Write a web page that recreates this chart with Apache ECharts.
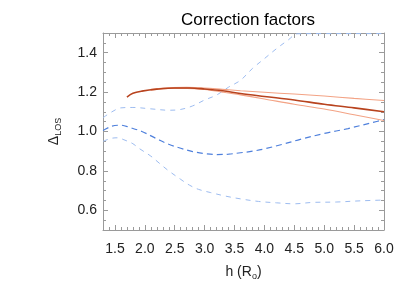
<!DOCTYPE html>
<html>
<head>
<meta charset="utf-8">
<script src="https://cdn.jsdelivr.net/npm/echarts@6/dist/echarts.min.js"></script>
<style>html,body{margin:0;padding:0;background:#fff}#c{width:415px;height:297px}</style>
</head>
<body>
<div id="c"></div>
<script>
// ---- data ----
const xTickLabels = [1.5, 2.0, 2.5, 3.0, 3.5, 4.0, 4.5, 5.0, 5.5, 6.0];
const yTickLabels = [0.6, 0.8, 1.0, 1.2, 1.4];

const xBlueUpper = [1.3, 1.45, 1.6, 1.8, 2.1, 2.4, 2.6, 2.8, 3.0, 3.2, 3.4, 3.6, 3.8, 4.0, 4.2, 4.4, 4.55, 5.0, 5.5, 6.0];
const yBlueUpper = [1.07, 1.10, 1.12, 1.122, 1.115, 1.108, 1.112, 1.13, 1.16, 1.185, 1.225, 1.26, 1.32, 1.37, 1.42, 1.465, 1.496, 1.497, 1.497, 1.497];

const xBlueMid = [1.3, 1.45, 1.6, 1.75, 1.95, 2.2, 2.4, 2.6, 2.8, 3.0, 3.2, 3.4, 3.6, 3.8, 4.0, 4.3, 4.6, 5.0, 5.4, 5.8, 6.0];
const yBlueMid = [1.005, 1.027, 1.032, 1.02, 1.0, 0.963, 0.935, 0.915, 0.898, 0.888, 0.883, 0.885, 0.892, 0.9, 0.912, 0.935, 0.96, 0.99, 1.015, 1.045, 1.06];

const xBlueLow = [1.3, 1.45, 1.55, 1.65, 1.8, 1.9, 2.1, 2.25, 2.4, 2.6, 2.75, 2.9, 3.1, 3.35, 3.6, 3.9, 4.2, 4.5, 4.8, 5.2, 5.6, 6.0];
const yBlueLow = [0.95, 0.966, 0.968, 0.958, 0.938, 0.915, 0.875, 0.837, 0.8, 0.757, 0.727, 0.706, 0.69, 0.672, 0.658, 0.645, 0.638, 0.633, 0.64, 0.642, 0.648, 0.652];

const xRedDark = [1.7, 1.8, 1.95, 2.2, 2.5, 2.75, 3.0, 3.3, 3.6, 4.0, 4.5, 5.0, 5.5, 6.0];
const yRedDark = [1.175, 1.194, 1.205, 1.215, 1.221, 1.221, 1.216, 1.207, 1.193, 1.178, 1.16, 1.138, 1.12, 1.10];

const xRedUpper = [2.1, 2.4, 2.7, 3.0, 3.3, 3.6, 4.0, 4.5, 5.0, 5.5, 6.0];
const yRedUpper = [1.214, 1.222, 1.224, 1.221, 1.214, 1.207, 1.199, 1.19, 1.18, 1.168, 1.157];

const xRedLower = [2.1, 2.4, 2.7, 3.0, 3.3, 3.6, 4.0, 4.5, 5.0, 5.5, 6.0];
const yRedLower = [1.21, 1.218, 1.219, 1.213, 1.2, 1.186, 1.165, 1.138, 1.114, 1.085, 1.056];

// ---- chart ----
const pairs = (xs, ys) => xs.map((x, i) => [x, ys[i]]);
const axisGray = '#9a9a9a';
const font = 'Liberation Sans, Arial, sans-serif';

function xAx(pos, major, labels, extra) {
  return Object.assign({
    type: 'value', position: pos, min: 1.3, max: 6.0, interval: 0.1,
    axisLine: { show: !major, onZero: false, lineStyle: { color: axisGray, width: 1 } },
    axisTick: major
      ? { show: true, inside: true, length: 5, customValues: xTickLabels, lineStyle: { color: axisGray } }
      : { show: true, inside: true, length: 3, lineStyle: { color: axisGray } },
    axisLabel: labels
      ? { show: true, customValues: xTickLabels, formatter: v => v.toFixed(1), color: '#222', fontSize: 14, fontFamily: font, margin: 12 }
      : { show: false },
    splitLine: { show: false }
  }, extra || {});
}
function yAx(pos, major, labels, extra) {
  return Object.assign({
    type: 'value', position: pos, min: 0.5, max: 1.5, interval: 0.05,
    axisLine: { show: !major, onZero: false, lineStyle: { color: axisGray, width: 1 } },
    axisTick: major
      ? { show: true, inside: true, length: 5, customValues: yTickLabels, lineStyle: { color: axisGray } }
      : { show: true, inside: true, length: 3, lineStyle: { color: axisGray } },
    axisLabel: labels
      ? { show: true, customValues: yTickLabels, formatter: v => v.toFixed(1), color: '#222', fontSize: 14, fontFamily: font, margin: 6 }
      : { show: false },
    splitLine: { show: false }
  }, extra || {});
}

const chart = echarts.init(document.getElementById('c'), null, { renderer: 'canvas' });
const lineS = (data, color, width, dash, z) => ({
  type: 'line', data, xAxisIndex: 0, yAxisIndex: 0, smooth: 0.35, showSymbol: false, symbol: 'none',
  clip: true, z: z, silent: true, animation: false,
  lineStyle: { color, width, type: dash || 'solid' }
});

chart.setOption({
  animation: false,
  backgroundColor: '#fff',
  title: {
    text: 'Correction factors', left: 243, textAlign: 'center', top: 7,
    textStyle: { fontSize: 17, fontWeight: 'normal', color: '#000', fontFamily: font }
  },
  grid: { left: 103, right: 31, top: 33, bottom: 67 },
  xAxis: [
    xAx('bottom', false, true, {
      name: '{a|h (R}{s|o}{a|)}', nameLocation: 'middle', nameGap: 34,
      nameTextStyle: { rich: {
        a: { fontSize: 14, color: '#222', fontFamily: font },
        s: { fontSize: 9, color: '#222', fontFamily: font, verticalAlign: 'bottom', padding: [8, 0, 0, 0] }
      } }
    }),
    xAx('bottom', true, false),
    xAx('top', false, false),
    xAx('top', true, false)
  ],
  yAxis: [
    yAx('left', false, true, {
      name: '{a|Δ}{s|LOS}', nameLocation: 'middle', nameRotate: 90, nameGap: 40,
      nameTextStyle: { rich: {
        a: { fontSize: 14, color: '#222', fontFamily: font },
        s: { fontSize: 9, color: '#222', fontFamily: font, verticalAlign: 'bottom', padding: [8, 0, 0, 0] }
      } }
    }),
    yAx('left', true, false),
    yAx('right', false, false),
    yAx('right', true, false)
  ],
  series: [
    lineS(pairs(xBlueUpper, yBlueUpper), '#9dbcf0', 1, [5, 5], 2),
    lineS(pairs(xBlueLow, yBlueLow), '#9dbcf0', 1, [5, 5], 2),
    lineS(pairs(xBlueMid, yBlueMid), '#4f80dc', 1.2, [6, 4], 3),
    lineS(pairs(xRedUpper, yRedUpper), '#f3a385', 1.1, null, 4),
    lineS(pairs(xRedLower, yRedLower), '#f3a385', 1.1, null, 4),
    lineS(pairs(xRedDark, yRedDark), '#b8431e', 1.6, null, 5)
  ]
});
</script>
</body>
</html>
